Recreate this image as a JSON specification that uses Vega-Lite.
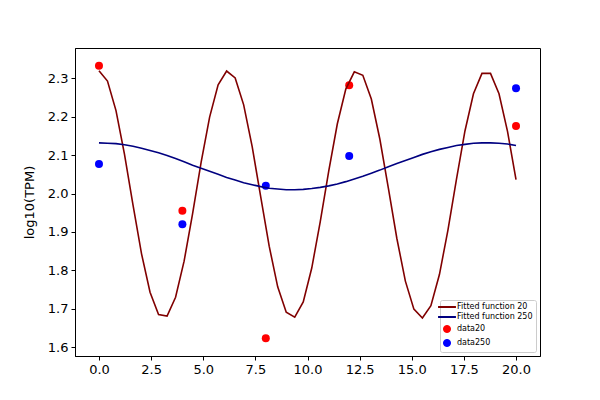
{
  "$schema": "https://vega.github.io/schema/vega-lite/v6.json",
  "width": 465,
  "height": 308,
  "autosize": {"type": "none"},
  "padding": {"left": 75, "top": 48, "right": 60, "bottom": 44},
  "config": {
    "font": "DejaVu Sans",
    "view": {"stroke": "black", "strokeWidth": 1},
    "axis": {
      "grid": false,
      "domainColor": "black",
      "tickColor": "black",
      "labelColor": "black",
      "titleColor": "black",
      "labelFont": "DejaVu Sans",
      "titleFont": "DejaVu Sans",
      "labelFontSize": 13,
      "titleFontSize": 13,
      "titleFontWeight": "normal",
      "tickSize": 4,
      "labelPadding": 3
    }
  },
  "datasets": {
    "curves": [
      {"x": 0.000, "f20": 2.320, "f250": 2.132},
      {"x": 0.408, "f20": 2.293, "f250": 2.131},
      {"x": 0.816, "f20": 2.216, "f250": 2.130},
      {"x": 1.224, "f20": 2.102, "f250": 2.127},
      {"x": 1.633, "f20": 1.970, "f250": 2.123},
      {"x": 2.041, "f20": 1.843, "f250": 2.118},
      {"x": 2.449, "f20": 1.743, "f250": 2.112},
      {"x": 2.857, "f20": 1.685, "f250": 2.106},
      {"x": 3.265, "f20": 1.681, "f250": 2.099},
      {"x": 3.673, "f20": 1.730, "f250": 2.091},
      {"x": 4.082, "f20": 1.824, "f250": 2.083},
      {"x": 4.490, "f20": 1.948, "f250": 2.074},
      {"x": 4.898, "f20": 2.081, "f250": 2.066},
      {"x": 5.306, "f20": 2.199, "f250": 2.058},
      {"x": 5.714, "f20": 2.283, "f250": 2.050},
      {"x": 6.122, "f20": 2.319, "f250": 2.042},
      {"x": 6.531, "f20": 2.301, "f250": 2.035},
      {"x": 6.939, "f20": 2.231, "f250": 2.028},
      {"x": 7.347, "f20": 2.122, "f250": 2.023},
      {"x": 7.755, "f20": 1.992, "f250": 2.018},
      {"x": 8.163, "f20": 1.863, "f250": 2.014},
      {"x": 8.571, "f20": 1.757, "f250": 2.012},
      {"x": 8.980, "f20": 1.691, "f250": 2.010},
      {"x": 9.388, "f20": 1.678, "f250": 2.010},
      {"x": 9.796, "f20": 1.718, "f250": 2.011},
      {"x": 10.204, "f20": 1.806, "f250": 2.013},
      {"x": 10.612, "f20": 1.927, "f250": 2.016},
      {"x": 11.020, "f20": 2.059, "f250": 2.020},
      {"x": 11.429, "f20": 2.181, "f250": 2.025},
      {"x": 11.837, "f20": 2.272, "f250": 2.031},
      {"x": 12.245, "f20": 2.317, "f250": 2.038},
      {"x": 12.653, "f20": 2.308, "f250": 2.045},
      {"x": 13.061, "f20": 2.246, "f250": 2.053},
      {"x": 13.469, "f20": 2.142, "f250": 2.061},
      {"x": 13.878, "f20": 2.014, "f250": 2.070},
      {"x": 14.286, "f20": 1.883, "f250": 2.078},
      {"x": 14.694, "f20": 1.772, "f250": 2.086},
      {"x": 15.102, "f20": 1.699, "f250": 2.094},
      {"x": 15.510, "f20": 1.676, "f250": 2.102},
      {"x": 15.918, "f20": 1.708, "f250": 2.109},
      {"x": 16.327, "f20": 1.789, "f250": 2.115},
      {"x": 16.735, "f20": 1.905, "f250": 2.120},
      {"x": 17.143, "f20": 2.037, "f250": 2.125},
      {"x": 17.551, "f20": 2.163, "f250": 2.128},
      {"x": 17.959, "f20": 2.260, "f250": 2.131},
      {"x": 18.367, "f20": 2.313, "f250": 2.132},
      {"x": 18.776, "f20": 2.313, "f250": 2.132},
      {"x": 19.184, "f20": 2.260, "f250": 2.131},
      {"x": 19.592, "f20": 2.162, "f250": 2.129},
      {"x": 20.000, "f20": 2.036, "f250": 2.125}
    ],
    "points": [
      {"x": 0, "y": 2.333, "series": "data20"},
      {"x": 4, "y": 1.955, "series": "data20"},
      {"x": 8, "y": 1.623, "series": "data20"},
      {"x": 12, "y": 2.282, "series": "data20"},
      {"x": 20, "y": 2.176, "series": "data20"},
      {"x": 0, "y": 2.077, "series": "data250"},
      {"x": 4, "y": 1.920, "series": "data250"},
      {"x": 8, "y": 2.020, "series": "data250"},
      {"x": 12, "y": 2.098, "series": "data250"},
      {"x": 20, "y": 2.274, "series": "data250"}
    ]
  },
  "layer": [
    {
      "data": {"name": "points"},
      "mark": {"type": "point", "filled": true, "opacity": 1, "size": 64},
      "encoding": {
        "x": {"field": "x", "type": "quantitative", "scale": {"domain": [-1.15, 21.15], "nice": false, "zero": false}, "axis": {"title": null, "values": [0, 2.5, 5, 7.5, 10, 12.5, 15, 17.5, 20], "format": ".1f"}},
        "y": {"field": "y", "type": "quantitative", "scale": {"domain": [1.577, 2.379], "nice": false, "zero": false}, "axis": {"title": "log10(TPM)", "values": [1.6, 1.7, 1.8, 1.9, 2.0, 2.1, 2.2, 2.3], "format": ".1f", "titlePadding": 11}},
        "color": {
          "field": "series",
          "type": "nominal",
          "scale": {"domain": ["f20", "f250", "data20", "data250"], "range": ["#800000", "#000080", "#ff0000", "#0000ff"]},
          "legend": {
            "title": null,
            "orient": "bottom-right",
            "offset": 4,
            "labelFontSize": 8,
            "labelFont": "DejaVu Sans",
            "labelColor": "black",
            "labelExpr": "datum.value == 'f20' ? 'Fitted function 20' : datum.value == 'f250' ? 'Fitted function 250' : datum.value",
            "strokeColor": "#cccccc",
            "fillColor": "white",
            "cornerRadius": 2,
            "padding": 3,
            "rowPadding": 2,
            "labelOffset": 6,
            "encoding": {
              "symbols": {
                "shape": {"value": {"expr": "indexof(['data20','data250'], datum.value) >= 0 ? 'circle' : 'stroke'"}},
                "size": {"value": {"expr": "indexof(['data20','data250'], datum.value) >= 0 ? 50 : 320"}},
                "strokeWidth": {"value": {"expr": "indexof(['data20','data250'], datum.value) >= 0 ? 1 : 2"}},
                "fill": {"value": {"expr": "scale('color', datum.value)"}},
                "stroke": {"value": {"expr": "scale('color', datum.value)"}},
                "opacity": {"value": 1}
              }
            }
          }
        }
      }
    },
    {
      "data": {"name": "curves"},
      "transform": [{"fold": ["f20", "f250"], "as": ["series", "y"]}],
      "mark": {"type": "line", "strokeWidth": 1.6},
      "encoding": {
        "x": {"field": "x", "type": "quantitative"},
        "y": {"field": "y", "type": "quantitative"},
        "color": {"field": "series", "type": "nominal"}
      }
    }
  ]
}
